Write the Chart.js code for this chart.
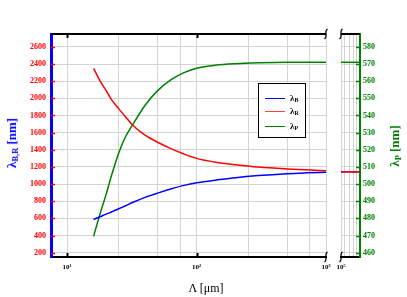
<!DOCTYPE html>
<html>
<head>
<meta charset="utf-8">
<script src="https://cdn.jsdelivr.net/npm/chart.js@4.4.1/dist/chart.umd.min.js"></script>
<style>
  body { margin: 0; background: #fff; }
  #wrap { position: relative; width: 407px; height: 297px; overflow: hidden; font-family: 'Liberation Serif', 'Times New Roman', serif; }
  canvas { position: absolute; top: 0; }
  #leftChart { left: 0; }
  #rightChart { left: 330px; }
  .ttl { position: absolute; white-space: nowrap; font-weight: bold; font-size: 13px; transform: translate(-50%, -50%) rotate(-90deg); }
  .ttl sub, .leg sub { font-size: 65%; vertical-align: -0.25em; }
  #xTitle { position: absolute; left: 206px; top: 288px; transform: translate(-50%, -50%); font-size: 12px; white-space: nowrap; }
  #legend { position: absolute; left: 258px; top: 83px; width: 46px; height: 53px; border: 1.5px solid #000; background: #fff; }
  .leg { position: absolute; left: 31px; font-size: 9px; font-weight: bold; line-height: 10px; }
  .sw { position: absolute; left: 6px; width: 20px; height: 0; border-top: 1.5px solid; }
</style>
</head>
<body>
<div id="wrap">
  <canvas id="leftChart" width="340" height="297"></canvas>
  <canvas id="rightChart" width="77" height="297"></canvas>
  <div class="ttl" style="left:12px; top:143px; color:#0000ff;">λ<sub>B,R</sub> [nm]</div>
  <div class="ttl" style="left:395px; top:146px; color:#008000;">λ<sub>P</sub> [nm]</div>
  <div id="xTitle">Λ [μm]</div>
  <div id="legend">
    <div class="sw" style="top:14px; border-color:#0000ff;"></div><div class="leg" style="top:9px;">λ<sub>B</sub></div>
    <div class="sw" style="top:27px; border-color:#ff4040;"></div><div class="leg" style="top:22px;">λ<sub>R</sub></div>
    <div class="sw" style="top:42px; border-color:#008000;"></div><div class="leg" style="top:37px;">λ<sub>P</sub></div>
  </div>
</div>
<script>
// period Λ in µm and the three wavelengths
const period = [16, 18, 20, 22, 25, 28, 32, 40, 50, 64, 80, 100, 140, 200, 300, 500, 700, 1000];
const lambdaB = [588, 620, 650, 675, 712, 745, 785, 845, 895, 945, 985, 1015, 1045, 1075, 1100, 1122, 1131, 1138];
const lambdaR = [2350, 2200, 2090, 1985, 1880, 1790, 1690, 1570, 1488, 1410, 1350, 1300, 1255, 1225, 1198, 1177, 1167, 1155];
const lambdaP = [469.5, 483, 494, 505, 518, 527, 534.5, 546, 554.5, 561, 565, 567.5, 569.3, 570.2, 570.7, 571, 571, 571];

// far panel (after the axis break)
const periodFar = [100000, 1000000];
const farB = [1143, 1143];
const farR = [1143, 1143];
const farP = [571, 571];

// axes
const xGridLeft = [7.5, 10, 25, 50, 75, 100, 250, 500, 750, 1000];
const xMajorLeft = [10, 100, 1000];
const xMajorLabelsLeft = ['10¹', '10²', '10³'];
const xGridRight = [100000, 160000, 270000, 440000, 620000, 1000000];
const xMajorRight = [100000];
const xMajorLabelsRight = ['10⁵'];
const yLeftMin = 150, yLeftMax = 2750;
const yRightMin = 457.5, yRightMax = 587.5;

const BLUE = '#0000ff', RED = '#ff0000', GREEN = '#008000', GRID = '#d4d4d4';
const tickFont = { family: 'Liberation Serif', size: 8, weight: 'bold' };
const xFont = { family: 'Liberation Serif', size: 7, weight: 'bold' };

function pts(xs, ys) {
  return xs.map((x, i) => ({ x: x, y: ys[i] }));
}

function range(a, b, step) {
  const out = [];
  for (let v = a; v <= b + 1e-9; v += step) out.push({ value: v });
  return out;
}

function line(label, xs, ys, color, axis) {
  return {
    label: label, data: pts(xs, ys), yAxisID: axis,
    borderColor: color, borderWidth: 1.5, pointRadius: 0,
    cubicInterpolationMode: 'monotone', fill: false
  };
}

function drawBreak(ctx, x, y) {
  ctx.save();
  ctx.strokeStyle = '#000';
  ctx.lineWidth = 1.2;
  ctx.beginPath();
  ctx.moveTo(x + 1.5, y - 5);
  ctx.bezierCurveTo(x - 2.5, y - 3, x + 2.5, y + 2, x - 1.5, y + 5);
  ctx.stroke();
  ctx.restore();
}

const leftDecor = {
  id: 'leftDecor',
  afterDraw(chart) {
    const { ctx, chartArea: a, scales } = chart;
    ctx.save();
    ctx.strokeStyle = '#000';
    ctx.lineWidth = 2;
    ctx.beginPath();
    ctx.moveTo(a.left, a.top);
    ctx.lineTo(a.right, a.top);
    ctx.stroke();
    // inward x ticks top and bottom
    xMajorLeft.slice(0, 2).forEach(v => {
      const px = Math.round(scales.x.getPixelForValue(v)) + 0.5;
      ctx.beginPath();
      ctx.moveTo(px, a.bottom); ctx.lineTo(px, a.bottom - 4);
      ctx.moveTo(px, a.top); ctx.lineTo(px, a.top + 4);
      ctx.stroke();
    });
    // inward red y ticks
    ctx.strokeStyle = RED;
    ctx.lineWidth = 1.5;
    scales.y.ticks.forEach(t => {
      if (t.value % 200 !== 0) return;
      const py = Math.round(scales.y.getPixelForValue(t.value)) + 0.5;
      ctx.beginPath();
      ctx.moveTo(a.left, py); ctx.lineTo(a.left + 4, py);
      ctx.stroke();
    });
    ctx.restore();
    drawBreak(ctx, a.right, a.top);
    drawBreak(ctx, a.right, a.bottom);
  }
};

const rightDecor = {
  id: 'rightDecor',
  afterDraw(chart) {
    const { ctx, chartArea: a, scales } = chart;
    ctx.save();
    ctx.strokeStyle = '#000';
    ctx.lineWidth = 2;
    ctx.beginPath();
    ctx.moveTo(a.left, a.top);
    ctx.lineTo(a.right, a.top);
    ctx.stroke();
    ctx.strokeStyle = GREEN;
    ctx.lineWidth = 1.5;
    scales.y.ticks.forEach(t => {
      if (t.value % 10 !== 0) return;
      const py = Math.round(scales.y.getPixelForValue(t.value)) + 0.5;
      ctx.beginPath();
      ctx.moveTo(a.right, py); ctx.lineTo(a.right - 4, py);
      ctx.stroke();
    });
    ctx.restore();
    drawBreak(ctx, a.left, a.top);
    drawBreak(ctx, a.left, a.bottom);
  }
};

new Chart(document.getElementById('leftChart'), {
  type: 'line',
  data: {
    datasets: [
      line('λB', period, lambdaB, BLUE, 'y'),
      line('λR', period, lambdaR, RED, 'y'),
      line('λP', period, lambdaP, GREEN, 'yP')
    ]
  },
  options: {
    responsive: false,
    animation: false,
    layout: { padding: { top: 34, right: 14, left: 0, bottom: 0 } },
    plugins: { legend: { display: false }, tooltip: { enabled: false } },
    scales: {
      x: {
        type: 'logarithmic', min: 7.5, max: 1000,
        afterBuildTicks: s => { s.ticks = xGridLeft.map(v => ({ value: v })); },
        afterFit: s => { s.height = 40; },
        grid: { color: GRID, drawTicks: false },
        border: { color: '#000', width: 2 },
        ticks: {
          autoSkip: false, maxRotation: 0, padding: 6, color: '#000', font: xFont,
          callback: v => { const i = xMajorLeft.indexOf(v); return i >= 0 ? xMajorLabelsLeft[i] : ''; }
        }
      },
      y: {
        position: 'left', min: yLeftMin, max: yLeftMax,
        afterBuildTicks: s => { s.ticks = range(200, 2700, 100); },
        afterFit: s => { s.width = 51; },
        grid: { color: GRID, drawTicks: false },
        border: { color: BLUE, width: 3 },
        ticks: {
          padding: 5, color: RED, font: tickFont,
          callback: v => (v % 200 === 0 ? String(v) : '')
        }
      },
      yP: { display: false, min: yRightMin, max: yRightMax }
    }
  },
  plugins: [leftDecor]
});

new Chart(document.getElementById('rightChart'), {
  type: 'line',
  data: {
    datasets: [
      line('λR', periodFar, farR, RED, 'yL'),
      line('λB', periodFar, farB, BLUE, 'yL'),
      line('λP', periodFar, farP, GREEN, 'y')
    ]
  },
  options: {
    responsive: false,
    animation: false,
    layout: { padding: { top: 34, left: 11, right: 0, bottom: 0 } },
    plugins: { legend: { display: false }, tooltip: { enabled: false } },
    scales: {
      x: {
        type: 'logarithmic', min: 100000, max: 1000000,
        afterBuildTicks: s => { s.ticks = xGridRight.map(v => ({ value: v })); },
        afterFit: s => { s.height = 40; },
        grid: { color: GRID, drawTicks: false },
        border: { color: '#000', width: 2 },
        ticks: {
          autoSkip: false, maxRotation: 0, padding: 6, color: '#000', font: xFont,
          callback: v => { const i = xMajorRight.indexOf(v); return i >= 0 ? xMajorLabelsRight[i] : ''; }
        }
      },
      y: {
        position: 'right', min: yRightMin, max: yRightMax,
        afterBuildTicks: s => { s.ticks = range(460, 585, 5); },
        afterFit: s => { s.width = 47; },
        grid: { color: GRID, drawTicks: false },
        border: { color: GREEN, width: 2 },
        ticks: {
          padding: 3, color: GREEN, font: tickFont,
          callback: v => (v % 10 === 0 ? String(v) : '')
        }
      },
      yL: { display: false, min: yLeftMin, max: yLeftMax }
    }
  },
  plugins: [rightDecor]
});
</script>
</body>
</html>
